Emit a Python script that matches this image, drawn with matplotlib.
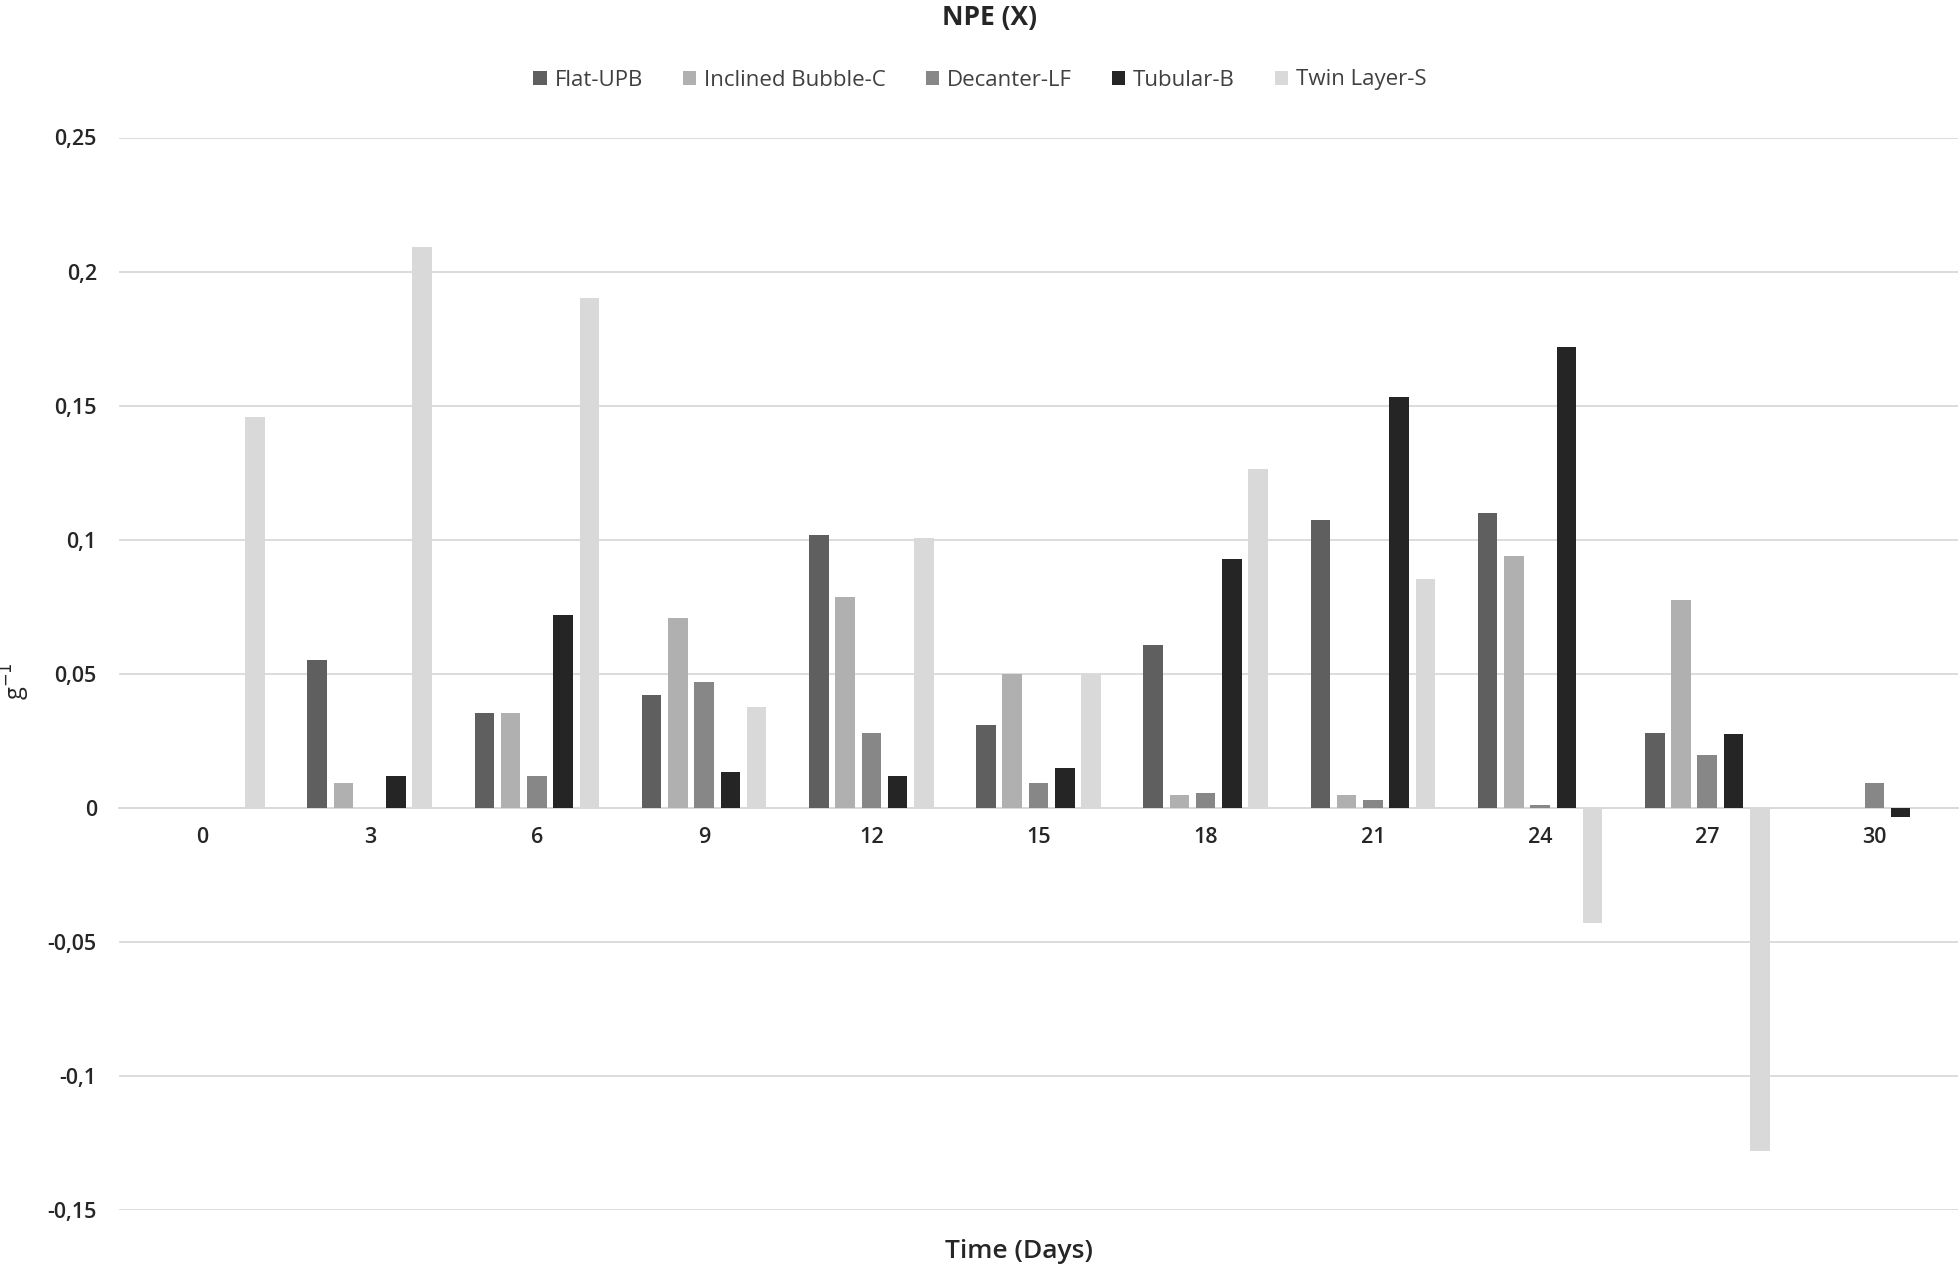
import matplotlib
import matplotlib.pyplot as plt
import numpy as np
from matplotlib.ticker import FuncFormatter

matplotlib.use('Agg')

plt.rcParams['font.family'] = ['Open Sans', 'DejaVu Sans']

days = [0, 3, 6, 9, 12, 15, 18, 21, 24, 27, 30]
series = ['Flat-UPB', 'Inclined Bubble-C', 'Decanter-LF', 'Tubular-B', 'Twin Layer-S']
flat_upb = [0, 0.055, 0.0354, 0.042, 0.1016, 0.0307, 0.0606, 0.1072, 0.110, 0.028, 0]
inclined_bubble = [0, 0.0093, 0.0354, 0.0708, 0.0788, 0.0499, 0.0047, 0.0047, 0.094, 0.0774, 0]
decanter_lf = [0, 0, 0.012, 0.047, 0.028, 0.0093, 0.0056, 0.003, 0.001, 0.0196, 0.0093]
tubular_b = [0, 0.012, 0.0718, 0.0135, 0.012, 0.015, 0.0927, 0.1533, 0.172, 0.0275, -0.0033]
twin_layer = [0.1459, 0.209, 0.190, 0.0377, 0.1007, 0.0499, 0.1263, 0.0853, -0.0429, -0.128, 0]
colors = ['#5f5f5f', '#b0b0b0', '#878787', '#252525', '#d9d9d9']

values = [flat_upb, inclined_bubble, decanter_lf, tubular_b, twin_layer]


def comma_fmt(v, pos):
    v = round(v, 2)
    if v == 0:
        return '0'
    return ('%g' % v).replace('.', ',')


fig = plt.figure(figsize=(19.6, 12.69), dpi=100)
ax = fig.add_axes([119 / 1960, 1 - 1210 / 1269, 1839 / 1960, (1210 - 137.5) / 1269])

x = np.arange(len(days))
slot = 0.157
width = 0.117
for i, (name, vals, c) in enumerate(zip(series, values, colors)):
    ax.bar(x + (i - 2) * slot, vals, width, color=c, label=name, zorder=3)

ax.set_xlim(-0.5, len(days) - 0.5)
ax.set_ylim(-0.15, 0.25)
ax.set_yticks([-0.15, -0.1, -0.05, 0, 0.05, 0.1, 0.15, 0.2, 0.25])
ax.yaxis.set_major_formatter(FuncFormatter(comma_fmt))
ax.grid(axis='y', color='#d9d9d9', linewidth=1.3, zorder=0)
ax.set_axisbelow(True)

ax.set_xticks(x)
ax.set_xticklabels([str(d) for d in days])
ax.spines['bottom'].set_position(('data', 0))
ax.spines['bottom'].set_color('#d9d9d9')
ax.spines['bottom'].set_linewidth(1.3)
for s in ['top', 'right', 'left']:
    ax.spines[s].set_visible(False)
ax.tick_params(axis='both', length=0, labelsize=15.5, colors='#262626')
ax.tick_params(axis='x', pad=14)
ax.tick_params(axis='y', pad=16)
for lbl in ax.get_xticklabels() + ax.get_yticklabels():
    lbl.set_fontweight('semibold')

fig.text(0.505, 1 - 17 / 1269, 'NPE (X)', ha='center', va='center', fontsize=19, fontweight='bold', color='#262626')
fig.text(0.52, 1 - 1251 / 1269, 'Time (Days)', ha='center', va='center', fontsize=19, fontweight='semibold', color='#262626')
fig.text(15 / 1960, 1 - 681 / 1269, r'g$^{-1}$', ha='center', va='center', rotation=90, fontsize=17, color='#262626')

leg = fig.legend(loc='center', bbox_to_anchor=(0.5, 1 - 80 / 1269), ncol=5, frameon=False,
                 fontsize=16, handlelength=0.6, handleheight=0.6, handletextpad=0.35,
                 columnspacing=1.8, labelcolor='#404040')

fig.savefig('out.png', dpi=100, facecolor='white')
